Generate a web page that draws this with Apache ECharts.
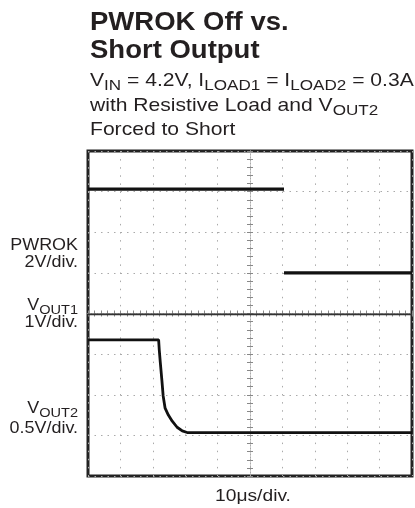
<!DOCTYPE html>
<html>
<head>
<meta charset="utf-8">
<script src="https://cdn.jsdelivr.net/npm/echarts/dist/echarts.min.js"></script>
<style>
    html, body { margin: 0; padding: 0; background: #fff; }
    #scope { width: 415px; height: 508px; }
</style>
</head>
<body>
<div id="scope"></div>
<script>
// scope traces, in divisions from screen centre (x: -5..5, y: -4..4)
var pwrokTime = [-5, 1.05, 1.05, 1.05, 5];
var pwrokLevel = [3.06, 3.06, '-', 1.0, 1.0];

var vout1Time = [-5, 5];
var vout1Level = [-0.02, -0.02];

var vout2Time = [-5, -2.82, -2.80, -2.77, -2.72, -2.68, -2.62, -2.52, -2.40, -2.25, -2.09, -1.94, 5];
var vout2Level = [-0.65, -0.65, -0.90, -1.19, -1.64, -2.03, -2.33, -2.50, -2.65, -2.80, -2.89, -2.93, -2.93];

// labels
var titleLines = ['PWROK Off vs.', 'Short Output'];
var channelLabels = ['PWROK', '2V/div.', '{n|V}{s|OUT1}', '1V/div.', '{n|V}{s|OUT2}', '0.5V/div.'];
var timeLabel = '10\u03bcs/div.';

function pairs(xs, ys) {
    var out = [];
    for (var i = 0; i < xs.length; i++) {
        out.push(ys[i] === '-' ? '-' : [xs[i], ys[i]]);
    }
    return out;
}

initScope();
function initScope() {
    var dom = document.getElementById('scope');
    var chart = echarts.init(dom, null, { renderer: 'canvas' });
    var ink = '#231f20';
    var font = '"Liberation Sans", Arial, sans-serif';

    function richFor(size, subSize) {
        return {
            n: { fontSize: size, fontFamily: font, color: ink, lineHeight: size + 2, verticalAlign: 'bottom' },
            s: { fontSize: subSize, fontFamily: font, color: ink, lineHeight: subSize, verticalAlign: 'bottom', padding: [0, 0, -3, 0] }
        };
    }

    function label(text, x, y, size, subSize, sx, align) {
        return {
            type: 'text', x: x, y: y, scaleX: sx, silent: true,
            style: {
                text: text, rich: richFor(size, subSize), fill: ink,
                font: size + 'px ' + font,
                align: align || 'left', verticalAlign: 'middle'
            }
        };
    }

    var graphics = [
        { type: 'text', x: 90, y: 23, scaleX: 1.1, style: { text: titleLines[0], fill: ink, font: 'bold 25px ' + font, verticalAlign: 'middle' } },
        { type: 'text', x: 90, y: 51.5, scaleX: 1.1, style: { text: titleLines[1], fill: ink, font: 'bold 25px ' + font, verticalAlign: 'middle' } },
        label('{n|V}{s|IN}{n| = 4.2V, I}{s|LOAD1}{n| = I}{s|LOAD2}{n| = 0.3A}', 90, 80, 18.5, 15, 1.14),
        label('{n|with Resistive Load and V}{s|OUT2}', 90, 105, 18.5, 15, 1.14),
        label('{n|Forced to Short}', 90, 129, 18.5, 15, 1.14),
        label('{n|' + timeLabel + '}', 253, 496, 16, 13, 1.2, 'center')
    ];
    var labelY = [245, 262, 305, 322, 408, 428];
    for (var i = 0; i < channelLabels.length; i++) {
        var t = channelLabels[i].indexOf('{') === 0 ? channelLabels[i] : '{n|' + channelLabels[i] + '}';
        graphics.push(label(t, 78, labelY[i], 16, 13, 1.12, 'right'));
    }

    function centreAxis(pos, dash) {
        var vertical = pos === 'left' || pos === 'right';
        return {
            type: 'value', min: vertical ? -4 : -5, max: vertical ? 4 : 5,
            interval: 1, position: pos,
            axisLine: { show: true, onZero: true, onZeroAxisIndex: 0, lineStyle: { color: '#aaa', width: 1, type: [1, 2] } },
            axisTick: { show: true, length: 3, lineStyle: { color: '#888' } },
            minorTick: { show: true, splitNumber: 5, length: 3, lineStyle: { color: '#888' } },
            axisLabel: { show: false },
            splitLine: { show: dash !== null, lineStyle: { color: '#aaa', width: 1, type: dash || 'solid' } }
        };
    }

    var option = {
        animation: false,
        grid: {
            left: 88, top: 151, right: 3, bottom: 32,
            show: true, borderColor: '#222', borderWidth: 3, backgroundColor: 'transparent'
        },
        graphic: graphics,
        xAxis: [centreAxis('bottom', [1.5, 6.6]), centreAxis('top', null)],
        yAxis: [centreAxis('left', [1.5, 5]), centreAxis('right', null)],
        series: [
            {
                name: 'PWROK', type: 'line', symbol: 'none', connectNulls: false,
                lineStyle: { color: '#111', width: 3.2 },
                data: pairs(pwrokTime, pwrokLevel)
            },
            {
                name: 'VOUT1', type: 'line', symbol: 'none',
                lineStyle: { color: '#333', width: 1.8 },
                data: pairs(vout1Time, vout1Level)
            },
            {
                name: 'VOUT2', type: 'line', symbol: 'none',
                lineStyle: { color: '#111', width: 2.8 },
                data: pairs(vout2Time, vout2Level)
            }
        ]
    };
    chart.setOption(option);
}
</script>
</body>
</html>
